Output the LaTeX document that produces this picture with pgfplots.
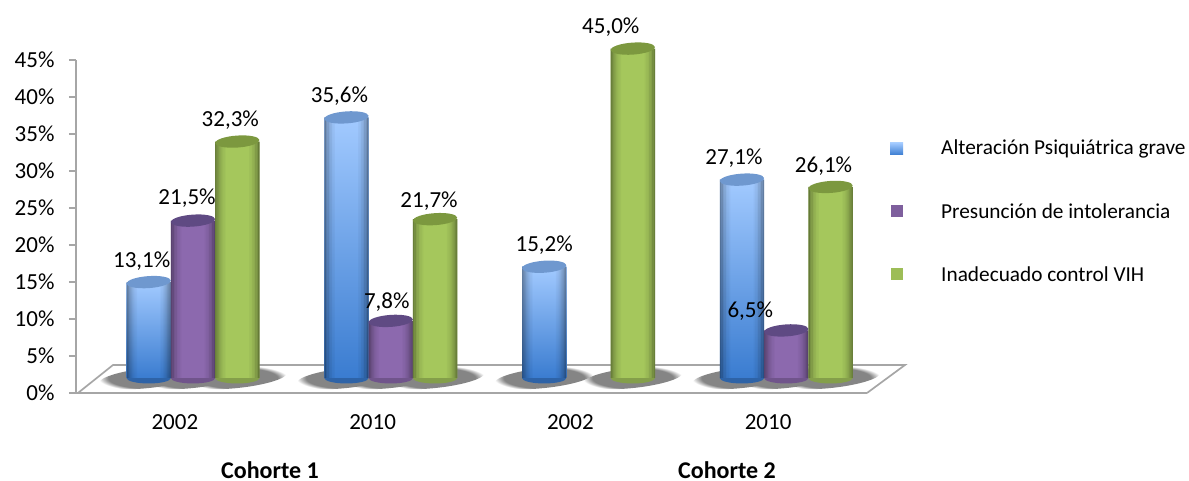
\documentclass[border=0pt]{standalone}
\usepackage{pgfplots}
\usepackage{pgfplotstable}
\usepackage{fontspec}
\setmainfont{Carlito}
\pgfplotsset{compat=1.18}
\usetikzlibrary{fadings}

\definecolor{axisgrey}{HTML}{A6A6A6}
\definecolor{blueCap}{HTML}{6F98CF}
\definecolor{purpleCap}{HTML}{5F4A83}
\definecolor{greenCap}{HTML}{7C983F}
\definecolor{purpleMid}{HTML}{8C69AE}
\definecolor{greenMid}{HTML}{A5C75C}
\definecolor{blueBot}{HTML}{3A7CD0}
\definecolor{blueMid}{HTML}{6FA6EC}
\definecolor{blueTop}{HTML}{A2CAFF}

\pgfdeclareplotmark{capBlue}{\fill[blueCap, draw=none] (0pt,0pt) ellipse [x radius=22.2pt, y radius=6pt, rotate=4];}
\pgfdeclareplotmark{capPurple}{\fill[purpleCap, draw=none] (0pt,0pt) ellipse [x radius=22.2pt, y radius=6pt, rotate=4];}
\pgfdeclareplotmark{capGreen}{\fill[greenCap, draw=none] (0pt,0pt) ellipse [x radius=22.2pt, y radius=6pt, rotate=4];}
\pgfdeclareplotmark{footBlue}{\fill[blueBot!80!black, draw=none] (0pt,0pt) ellipse [x radius=22.2pt, y radius=5.5pt];}
\pgfdeclareplotmark{footPurple}{\fill[purpleMid!80!black, draw=none] (0pt,0pt) ellipse [x radius=22.2pt, y radius=5.5pt];}
\pgfdeclareplotmark{footGreen}{\fill[greenMid!80!black, draw=none] (0pt,0pt) ellipse [x radius=22.2pt, y radius=5.5pt];}
\pgfdeclareplotmark{floorShadow}{\fill[black!48, draw=none, path fading=circle with fuzzy edge 20 percent] (0pt,0pt) ellipse [x radius=50pt, y radius=10pt, rotate=6];}

% Share of each cause, one table per series; dx and dy place the value label
\pgfplotstableread{
x   y    dx  dy
0.5 13.1 -7  21
1.5 35.6 -7  21
2.5 15.2  0  22
3.5 27.1 -8  21
}\blueData
\pgfplotstableread{
x   y    dx  dy
0.5 21.5 -6  22
1.5 7.8  -4  19
3.5 6.5 -36  19
}\purpleData
\pgfplotstableread{
x   y    dx  dy
0.5 32.3 -7  21
1.5 21.7 -6  18
2.5 45.0 -22 21
3.5 26.1 -7  21
}\greenData

\pgfplotsset{
  cylinder frame/.style={
    at={(94.13pt,103pt)}, anchor=origin,
    scale only axis, width=791pt, height=333pt,
    xmin=-0.0917, xmax=3.9083, ymin=-2.049, ymax=43.443,
    clip=false, hide axis,
  },
  cylinder body/.style={ybar, bar width=44.4pt, bar shift=0pt, draw=none, mark=none, forget plot},
  cylinder foot/.style={only marks, mark=#1, forget plot},
  cylinder cap/.style={only marks, mark=#1, forget plot},
  value labels/.style={
    draw=none, mark=none, forget plot,
    visualization depends on={\thisrow{dx} \as \dx},
    visualization depends on={\thisrow{dy} \as \dy},
    nodes near coords={\pgfmathprintnumber[assume math mode=true,fixed,fixed zerofill,precision=1,use comma]{\pgfplotspointmeta}\%},
    every node near coord/.append style={anchor=center, inner sep=0pt, text=black,
      font=\fontsize{23}{23}\selectfont, xshift=\dx pt, yshift=\dy pt},
  },
}

% One pair of narrow translucent strips darkens both sides of every cylinder of a series
\newcommand\sideStrip[4]{%
  \addplot[ybar, bar width=1.5pt, bar shift=#1pt, draw=none, fill=black, fill opacity=#2, mark=none, forget plot, xshift=#4] table[x=x,y=y] {#3};
  \addplot[ybar, bar width=1.5pt, bar shift=-#1pt, draw=none, fill=black, fill opacity=#2, mark=none, forget plot, xshift=#4] table[x=x,y=y] {#3};
}
\newcommand\cylinderSides[2]{%
  \sideStrip{21.45}{0.36}{#1}{#2}
  \sideStrip{19.95}{0.27}{#1}{#2}
  \sideStrip{18.45}{0.20}{#1}{#2}
  \sideStrip{16.95}{0.14}{#1}{#2}
  \sideStrip{15.45}{0.09}{#1}{#2}
  \sideStrip{13.95}{0.05}{#1}{#2}
  \sideStrip{12.45}{0.03}{#1}{#2}
}

\begin{document}
\begin{tikzpicture}
\path[use as bounding box] (0pt,0pt) rectangle (1189pt,481pt);

% Axes, tick labels and the floor of the chart
\begin{axis}[
  at={(76pt,88pt)}, anchor=south west,
  scale only axis, width=791pt, height=333pt,
  xmin=0, xmax=4, ymin=0, ymax=45,
  clip=false,
  axis x line*=bottom, axis y line*=left,
  axis line style={-, axisgrey, line width=1.8pt},
  ytick={0,5,...,45},
  yticklabel={\pgfmathprintnumber{\tick}\%},
  /pgf/number format/assume math mode=true,
  xtick={0.5,1.5,2.5,3.5},
  xticklabels={2002,2010,2002,2010},
  minor xtick={0,1,2,3,4},
  tick align=outside,
  major tick length=7pt, minor tick length=7pt,
  xtick style={draw=none},
  ytick style={axisgrey, line width=1.6pt},
  minor x tick style={axisgrey, line width=1.6pt},
  ticklabel style={font=\fontsize{23}{23}\selectfont, text=black},
  xticklabel style={yshift=-11pt},
  yticklabel style={xshift=-11pt},
]
\addplot[axisgrey, line width=1.7pt, mark=none] coordinates {(0.01,0) (0.187,3.78) (4.192,3.78) (4,0)};
\addplot[axisgrey, line width=2pt, mark=none] coordinates {(0,0) (4,0)};
\end{axis}

% Shadows on the floor and rounded feet, beneath the cylinders
\begin{axis}[cylinder frame]
\addplot[only marks, mark=floorShadow, forget plot, xshift=-44.3pt] table[x=x,y expr=0] {\blueData};
\addplot[only marks, mark=floorShadow, forget plot] table[x=x,y expr=0] {\purpleData};
\addplot[only marks, mark=floorShadow, forget plot, xshift=44.3pt] table[x=x,y expr=0] {\greenData};
\addplot[cylinder foot=footBlue, xshift=-44.3pt] table[x=x,y expr=0] {\blueData};
\addplot[cylinder foot=footPurple] table[x=x,y expr=0] {\purpleData};
\addplot[cylinder foot=footGreen, xshift=44.3pt] table[x=x,y expr=0] {\greenData};
\end{axis}

% Cylinders and value labels
\begin{axis}[cylinder frame]
\pgfplotsinvokeforeach{0.5,1.5,2.5,3.5}{
  \addplot[cylinder body, restrict x to domain=#1:#1, xshift=-44.3pt,
    top color=blueTop, middle color=blueMid, bottom color=blueBot] table[x=x,y=y] {\blueData};
}
\cylinderSides{\blueData}{-44.3pt}
\addplot[cylinder cap=capBlue, xshift=-44.3pt] table[x=x,y=y] {\blueData};

\addplot[cylinder body, fill=purpleMid] table[x=x,y=y] {\purpleData};
\cylinderSides{\purpleData}{0pt}
\addplot[cylinder cap=capPurple] table[x=x,y=y] {\purpleData};

\addplot[cylinder body, xshift=44.3pt, fill=greenMid] table[x=x,y=y] {\greenData};
\cylinderSides{\greenData}{44.3pt}
\addplot[cylinder cap=capGreen, xshift=44.3pt] table[x=x,y=y] {\greenData};

% Value labels go last so that they sit above the neighbouring cylinders
\addplot[value labels, xshift=-44.3pt] table[x=x,y=y] {\blueData};
\addplot[value labels] table[x=x,y=y] {\purpleData};
\addplot[value labels, xshift=44.3pt] table[x=x,y=y] {\greenData};
\end{axis}

% Legend
\shade[top color=blueTop, bottom color=blueBot] (890pt,326pt) rectangle (903pt,338pt);
\fill[purpleMid!90!black] (891pt,264pt) rectangle (903pt,276pt);
\fill[greenMid!95!black] (891pt,201pt) rectangle (903pt,213pt);
\node[anchor=west, inner sep=0pt, font=\fontsize{21.3}{21.3}\selectfont] at (941pt,332pt) {Alteración Psiquiátrica grave};
\node[anchor=west, inner sep=0pt, font=\fontsize{21.3}{21.3}\selectfont] at (941pt,270pt) {Presunción de intolerancia};
\node[anchor=west, inner sep=0pt, font=\fontsize{21.3}{21.3}\selectfont] at (941pt,207pt) {Inadecuado control VIH};

\node[inner sep=0pt, font=\bfseries\fontsize{24}{24}\selectfont] at (270pt,11pt) {Cohorte 1};
\node[inner sep=0pt, font=\bfseries\fontsize{24}{24}\selectfont] at (727pt,11pt) {Cohorte 2};
\end{tikzpicture}
\end{document}
